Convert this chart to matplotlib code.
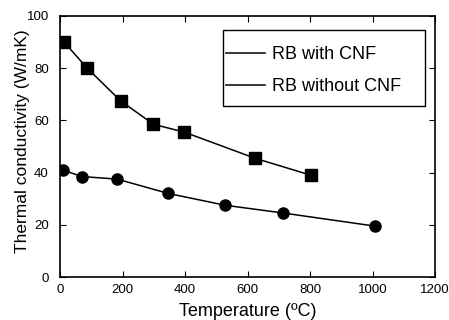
import matplotlib
matplotlib.use('Agg')
import matplotlib.pyplot as plt
from matplotlib.patches import Rectangle

plt.rcParams['font.family'] = ['Liberation Sans', 'DejaVu Sans']

# RB with CNF (squares)
temp_cnf = [13, 87, 194, 299, 398, 624, 803]
k_cnf = [90, 80, 67.5, 58.5, 55.5, 45.5, 39]
# RB without CNF (circles)
temp_nocnf = [8, 70, 183, 347, 528, 715, 1008]
k_nocnf = [41, 38.5, 37.5, 32, 27.5, 24.5, 19.5]

xticks = [0, 200, 400, 600, 800, 1000, 1200]
xlabels = ['0', '200', '400', '600', '800', '1000', '1200']
yticks = [0, 20, 40, 60, 80, 100]

fig = plt.figure(figsize=(4.49, 3.2), dpi=100)
ax = fig.add_axes([60 / 449, 43 / 320, 375 / 449, 261 / 320])

ax.plot(temp_cnf, k_cnf, 'k-', lw=1.1, label='RB with CNF')
ax.plot(temp_cnf, k_cnf, 'ks', ms=9, ls='none')
ax.plot(temp_nocnf, k_nocnf, 'k-', lw=1.1, label='RB without CNF')
ax.plot(temp_nocnf, k_nocnf, 'ko', ms=8, ls='none')

ax.set_xlim(0, 1200)
ax.set_ylim(0, 100)
ax.set_xticks(xticks)
ax.set_xticklabels(xlabels)
ax.set_yticks(yticks)
ax.tick_params(direction='in', top=True, right=True, labelsize=9.5, length=4)
ax.tick_params(axis='y', pad=8)
ax.tick_params(axis='x', pad=5)
for s in ax.spines.values():
    s.set_linewidth(1.2)

ax.set_xlabel('Temperature (ºC)', fontsize=13, labelpad=5)
ax.set_ylabel('Thermal conductivity (W/mK)', fontsize=12.5)
ax.yaxis.set_label_coords(-0.08, 0.52)

# legend box drawn by hand, entries placed left inside it
ax.add_patch(Rectangle((0.435, 0.655), 0.538, 0.291, transform=ax.transAxes,
                       fill=False, edgecolor='black', lw=1.0, zorder=5))
leg = ax.legend(loc='upper left', bbox_to_anchor=(0.443, 0.885), fontsize=13,
                frameon=False, borderpad=0, borderaxespad=0,
                handlelength=2.15, handletextpad=0.4, labelspacing=0.85)

fig.savefig('out.png', dpi=100)
